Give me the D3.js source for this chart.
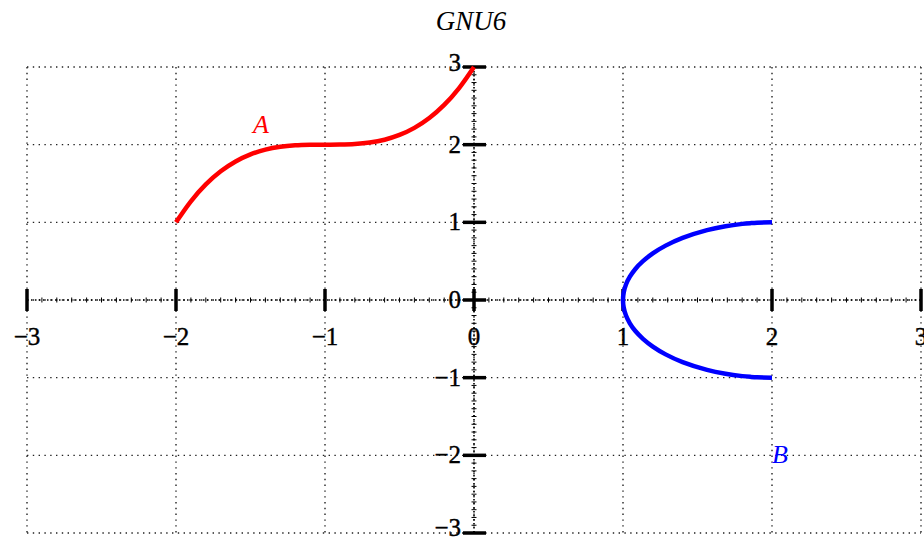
<!DOCTYPE html>
<html>
<head>
<meta charset="utf-8">
<script src="https://cdn.jsdelivr.net/npm/d3@7"></script>
<style>
  body { margin: 0; background: #fff; }
  text { font-family: "Liberation Serif", "DejaVu Serif", serif; }
</style>
</head>
<body>
<div id="root"></div>
<script>
// values
var title = 'GNU6';
var xTicks = [-3, -2, -1, 0, 1, 2, 3];
var yTicks = [-3, -2, -1, 0, 1, 2, 3];
var xTickLabels = ['\u22123', '\u22122', '\u22121', '0', '1', '2', '3'];
var yTickLabels = ['\u22123', '\u22122', '\u22121', '0', '1', '2', '3'];

var seriesAX = [-2, -1.9, -1.8, -1.7, -1.6, -1.5, -1.4, -1.3, -1.2, -1.1, -1,
                -0.9, -0.8, -0.7, -0.6, -0.5, -0.4, -0.3, -0.2, -0.1, 0];
var seriesAY = [1, 1.271, 1.488, 1.657, 1.784, 1.875, 1.936, 1.973, 1.992, 1.999, 2,
                2.001, 2.008, 2.027, 2.064, 2.125, 2.216, 2.343, 2.512, 2.729, 3];

var seriesBX = [2, 1.900, 1.859, 1.801, 1.688, 1.564, 1.4, 1.286, 1.2, 1.134, 1.083, 1.046, 1.020, 1.005, 1,
                1.005, 1.020, 1.046, 1.083, 1.134, 1.2, 1.286, 1.4, 1.564, 1.688, 1.801, 1.859, 1.900, 2];
var seriesBY = [-1, -0.995, -0.99, -0.98, -0.95, -0.9, -0.8, -0.7, -0.6, -0.5, -0.4, -0.3, -0.2, -0.1, 0,
                0.1, 0.2, 0.3, 0.4, 0.5, 0.6, 0.7, 0.8, 0.9, 0.95, 0.98, 0.99, 0.995, 1];

var labelA = {text: 'A', x: -1.43, y: 2.25};
var labelB = {text: 'B', x: 2.0, y: -2.0};

function drawChart () {
  var width = 924;
  var height = 539;

  var x = d3.scaleLinear().domain([-3, 3]).range([27, 921]);
  var y = d3.scaleLinear().domain([-3, 3]).range([533, 67]);

  var svg = d3.select('#root')
    .append('svg')
      .attr('width', width)
      .attr('height', height);

  // dotted grid
  var grid = svg.append('g')
    .attr('stroke', '#222')
    .attr('stroke-width', 1.4)
    .attr('stroke-dasharray', '1.4,4.4');

  grid.selectAll('.gx')
    .data(xTicks)
    .enter()
    .append('line')
      .attr('x1', function(d) { return x(d); })
      .attr('x2', function(d) { return x(d); })
      .attr('y1', y(3))
      .attr('y2', y(-3));

  grid.selectAll('.gy')
    .data(yTicks)
    .enter()
    .append('line')
      .attr('x1', x(-3))
      .attr('x2', x(3))
      .attr('y1', function(d) { return y(d); })
      .attr('y2', function(d) { return y(d); });

  // axes through the origin: dotted line plus small minor ticks
  var minor = d3.range(-30, 31).map(function(i) { return i / 10; });

  svg.append('line')
    .attr('x1', x(-3)).attr('x2', x(3))
    .attr('y1', y(0)).attr('y2', y(0))
    .attr('stroke', '#000')
    .attr('stroke-width', 1.6)
    .attr('stroke-dasharray', '1.5,2.5');

  svg.append('line')
    .attr('x1', x(0)).attr('x2', x(0))
    .attr('y1', y(3)).attr('y2', y(-3))
    .attr('stroke', '#000')
    .attr('stroke-width', 1.6)
    .attr('stroke-dasharray', '1.5,2.5');

  svg.append('g')
    .selectAll('line')
    .data(minor)
    .enter()
    .append('line')
      .attr('x1', function(d) { return x(d); })
      .attr('x2', function(d) { return x(d); })
      .attr('y1', y(0) - 2.5)
      .attr('y2', y(0) + 2.5)
      .attr('stroke', '#000')
      .attr('stroke-width', 1);

  svg.append('g')
    .selectAll('line')
    .data(minor)
    .enter()
    .append('line')
      .attr('y1', function(d) { return y(d); })
      .attr('y2', function(d) { return y(d); })
      .attr('x1', x(0) - 2.5)
      .attr('x2', x(0) + 2.5)
      .attr('stroke', '#000')
      .attr('stroke-width', 1);

  // major ticks
  svg.append('g')
    .selectAll('line')
    .data(xTicks)
    .enter()
    .append('line')
      .attr('x1', function(d) { return x(d); })
      .attr('x2', function(d) { return x(d); })
      .attr('y1', y(0) - 11)
      .attr('y2', y(0) + 11)
      .attr('stroke', '#000')
      .attr('stroke-width', 3.5);

  svg.append('g')
    .selectAll('line')
    .data(yTicks)
    .enter()
    .append('line')
      .attr('y1', function(d) { return y(d); })
      .attr('y2', function(d) { return y(d); })
      .attr('x1', x(0) - 11)
      .attr('x2', x(0) + 12)
      .attr('stroke', '#000')
      .attr('stroke-width', 3.5);

  // tick labels
  svg.append('g')
    .selectAll('text')
    .data(xTicks)
    .enter()
    .append('text')
      .attr('x', function(d) { return x(d); })
      .attr('y', y(0) + 45)
      .attr('text-anchor', 'middle')
      .attr('stroke', '#000')
      .attr('stroke-width', 0.4)
      .style('font-size', '25px')
      .text(function(d, i) { return xTickLabels[i]; });

  svg.append('g')
    .selectAll('text')
    .data(yTicks)
    .enter()
    .append('text')
      .attr('x', x(0) - 13)
      .attr('y', function(d) { return y(d) + (d === 3 ? 4 : (d === -3 ? 3 : 8)); })
      .attr('text-anchor', 'end')
      .attr('stroke', '#000')
      .attr('stroke-width', 0.4)
      .style('font-size', '25px')
      .text(function(d, i) { return yTickLabels[i]; });

  // curves
  var line = d3.line()
    .x(function(d) { return x(d[0]); })
    .y(function(d) { return y(d[1]); })
    .curve(d3.curveCatmullRom);

  var dataA = seriesAX.map(function(v, i) { return [v, seriesAY[i]]; });
  var dataB = seriesBX.map(function(v, i) { return [v, seriesBY[i]]; });

  svg.append('path')
    .datum(dataA)
    .attr('d', line)
    .attr('fill', 'none')
    .attr('stroke', '#ff0000')
    .attr('stroke-width', 4.5);

  svg.append('path')
    .datum(dataB)
    .attr('d', line)
    .attr('fill', 'none')
    .attr('stroke', '#0000ff')
    .attr('stroke-width', 4.5);

  // curve labels
  svg.append('text')
    .attr('x', x(labelA.x))
    .attr('y', y(labelA.y) + 8)
    .attr('text-anchor', 'middle')
    .attr('fill', '#ff0000')
    .style('font-size', '26px')
    .style('font-style', 'italic')
    .text(labelA.text);

  svg.append('text')
    .attr('x', x(labelB.x))
    .attr('y', y(labelB.y) + 8)
    .attr('text-anchor', 'start')
    .attr('fill', '#0000ff')
    .style('font-size', '26px')
    .style('font-style', 'italic')
    .text(labelB.text);

  // title
  svg.append('text')
    .attr('x', 471)
    .attr('y', 30)
    .attr('text-anchor', 'middle')
    .style('font-size', '27px')
    .style('font-style', 'italic')
    .text(title);
}

drawChart();
</script>
</body>
</html>
